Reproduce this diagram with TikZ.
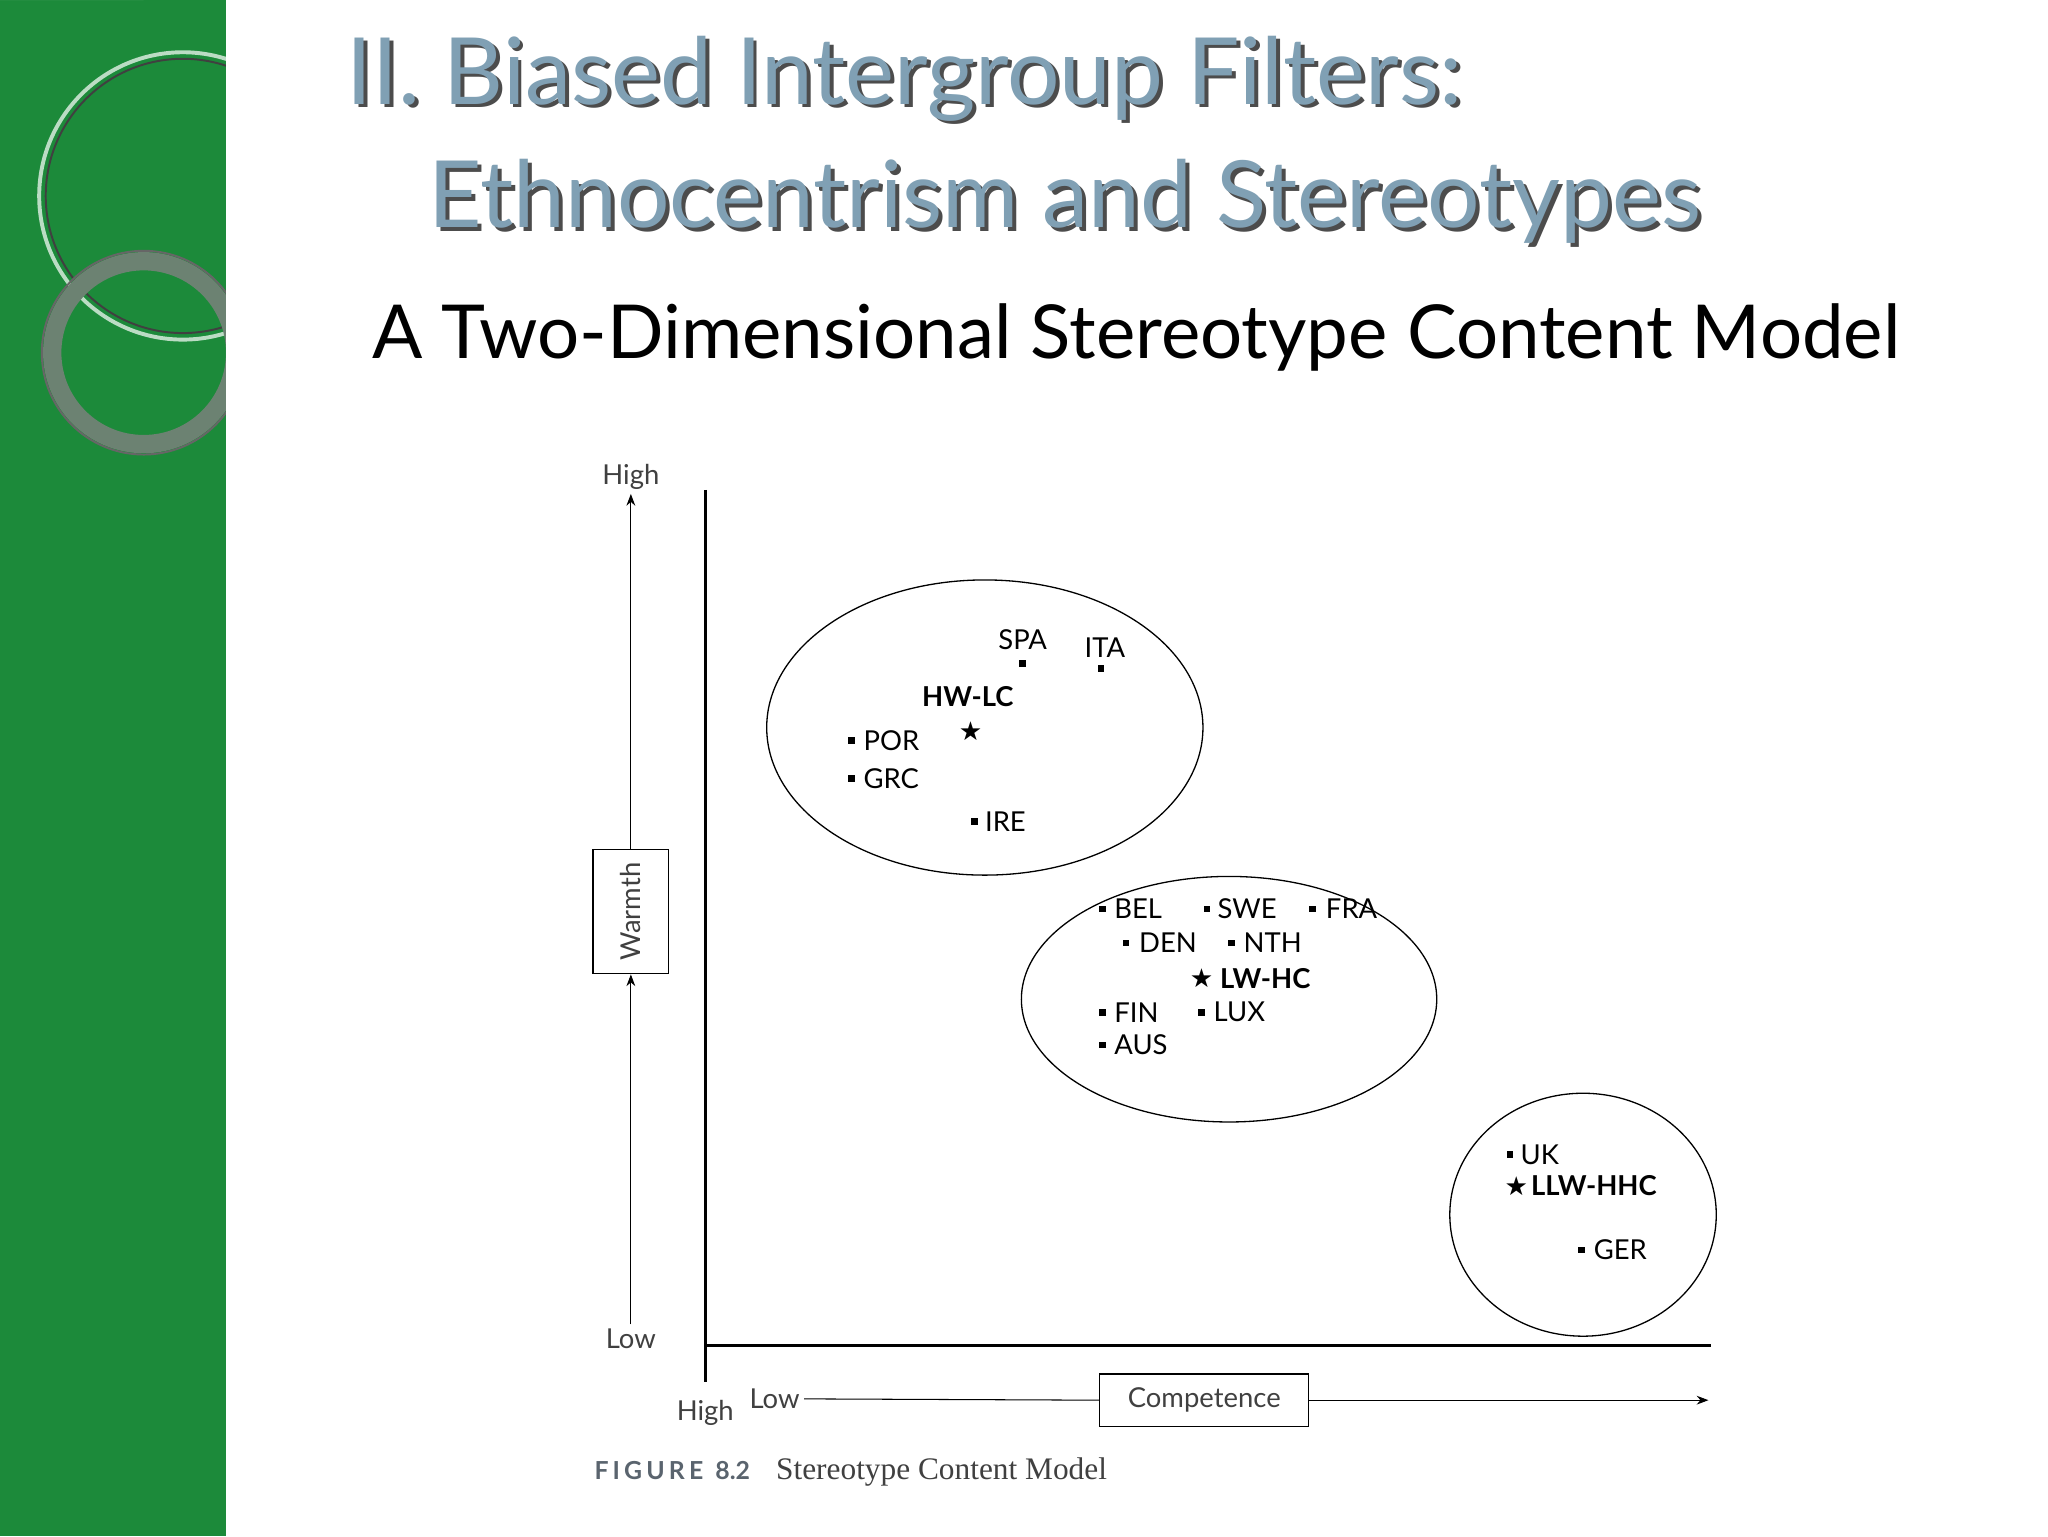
\documentclass[tikz,border=0pt]{standalone}
\usepackage{fontspec}
\setmainfont{Lato}
\newfontfamily\djv{DejaVu Sans}
\newfontfamily\capfont{Liberation Serif}
\usetikzlibrary{arrows.meta}
\definecolor{gband}{RGB}{28,138,58}
\definecolor{ttl}{RGB}{128,160,180}
\definecolor{capc}{RGB}{90,100,110}
\tikzset{lbl/.style={font=\fontsize{21}{22}\selectfont,anchor=west,inner sep=0pt},
 sq/.style={fill=black,minimum size=5pt,inner sep=0pt},
 st/.style={font=\djv\fontsize{20}{20}\selectfont,inner sep=0pt},
 ell/.style={draw,line width=1pt}}
\begin{document}
\begin{tikzpicture}[x=1pt,y=-1pt]
\useasboundingbox (0,0) rectangle (1568,1176);
\fill[white] (0,0) rectangle (1568,1176);
\fill[gband] (0,0) rectangle (173,1176);
\begin{scope}
\clip (0,0) rectangle (173,1176);
\fill[white,opacity=0.25] (0,0) -- (110,0) arc (0:-90:110 and 140) -- cycle;
\draw[white!70!gband,line width=3pt] (140,150) circle (110);
\draw[black!75,line width=1.5pt] (140,150) circle (105);
\draw[gray!80!gband,line width=14pt] (110,270) circle (70);
\draw[black!60,line width=1.5pt] (110,270) circle (78);
\end{scope}
\node[anchor=west,font=\fontsize{71}{72}\selectfont,text=black!70,inner sep=0pt] at (268,63) {II. Biased Intergroup Filters:};
\node[anchor=west,font=\fontsize{71}{72}\selectfont,text=ttl,inner sep=0pt] (t1) at (265,60) {II. Biased Intergroup Filters:};
\node[anchor=west,font=\fontsize{71}{72}\selectfont,text=black!70,inner sep=0pt] at (331,157) {Ethnocentrism and Stereotypes};
\node[anchor=west,font=\fontsize{71}{72}\selectfont,text=ttl,inner sep=0pt] (t2) at (328,154) {Ethnocentrism and Stereotypes};
\node[anchor=west,font=\fontsize{57}{58}\selectfont,inner sep=0pt] (sub) at (285,258) {A Two-Dimensional Stereotype Content Model};
% axes
\coordinate (vt) at (540,375); \coordinate (org) at (540,1030); \coordinate (vb) at (540,1058); \coordinate (hr) at (1310,1030);
\draw[line width=2.5pt] (vt) -- (vb);
\draw[line width=2.5pt] (org) -- (hr);
\node[font=\fontsize{21}{22}\selectfont,text=black!75] (wh) at (483,365) {High};
\node[font=\fontsize{21}{22}\selectfont,text=black!75] (wl) at (483,1025) {Low};
\node[draw,line width=1pt,minimum width=58pt,minimum height=95pt,inner sep=0pt] (wb) at (483,698) {};
\node[rotate=90,font=\fontsize{21}{22}\selectfont,text=black!75] at (wb) {Warmth};
\draw[line width=0.8pt,-{Stealth[length=9pt]}] (wl.north) -- (wb.south);
\draw[line width=0.8pt,-{Stealth[length=9pt]}] (wb.north) -- (wh.south);
\node[font=\fontsize{21}{22}\selectfont,text=black!75] (cl) at (593,1071) {Low};
\node[font=\fontsize{21}{22}\selectfont,text=black!75] (chi) at (540,1082) {High};
\node[draw,line width=1pt,minimum width=160pt,minimum height=40pt,font=\fontsize{21}{22}\selectfont,text=black!75] (cb) at (922,1072) {Competence};
\coordinate (ce) at (1308,1072);
\draw[line width=0.8pt] (cl.east) -- (cb.west);
\draw[line width=0.8pt,-{Stealth[length=9pt]}] (cb.east) -- (ce);
\node[anchor=west,inner sep=0pt] (fig) at (455,1127) {\textcolor{capc}{\bfseries\fontsize{19}{20}\selectfont F\,I\,G\,U\,R\,E\ \ 8.2}\hspace{20pt}{\capfont\fontsize{24}{24}\selectfont\color{black!75}Stereotype Content Model}};
% ellipses
\draw[ell] (754,557) ellipse (167 and 113);
\draw[ell] (941,765) ellipse (159 and 94);
\draw[ell] (1212,930) ellipse (102 and 93);
% cluster 1
\node[font=\fontsize{21}{22}\selectfont] (spa) at (783,490) {SPA}; \node[sq] at (783,508) {};
\node[font=\fontsize{21}{22}\selectfont] (ita) at (846,496) {ITA}; \node[sq] at (843,512) {};
\node[font=\bfseries\fontsize{21}{22}\selectfont] (hw) at (741,533) {HW-LC}; \node[st] at (743,560) {★};
\node[sq] at (652,567) {}; \node[lbl] at (661,567) {POR};
\node[sq] at (652,596) {}; \node[lbl] at (661,596) {GRC};
\node[sq] at (746,629) {}; \node[lbl] at (754,629) {IRE};
% cluster 2
\node[sq] at (844,696) {}; \node[lbl] at (853,696) {BEL};
\node[sq] at (924,696) {}; \node[lbl] at (932,696) {SWE};
\node[sq] at (1005,696) {}; \node[lbl] at (1015,696) {FRA};
\node[sq,minimum size=4pt] at (862,722) {}; \node[lbl] at (872,722) {DEN};
\node[sq] at (943,722) {}; \node[lbl] at (952,722) {NTH};
\node[st] at (920,749) {★}; \node[lbl,font=\bfseries\fontsize{21}{22}\selectfont] at (934,749) {LW-HC};
\node[sq] at (844,775) {}; \node[lbl] at (853,775) {FIN};
\node[sq] at (920,775) {}; \node[lbl] at (929,775) {LUX};
\node[sq] at (844,800) {}; \node[lbl] at (853,800) {AUS};
% cluster 3
\node[sq] at (1156,884) {}; \node[lbl] at (1164,884) {UK};
\node[st] at (1161,908) {★}; \node[lbl,font=\bfseries\fontsize{21}{22}\selectfont] at (1172,908) {LLW-HHC};
\node[sq] at (1211,957) {}; \node[lbl] at (1220,957) {GER};
\end{tikzpicture}
\end{document}
